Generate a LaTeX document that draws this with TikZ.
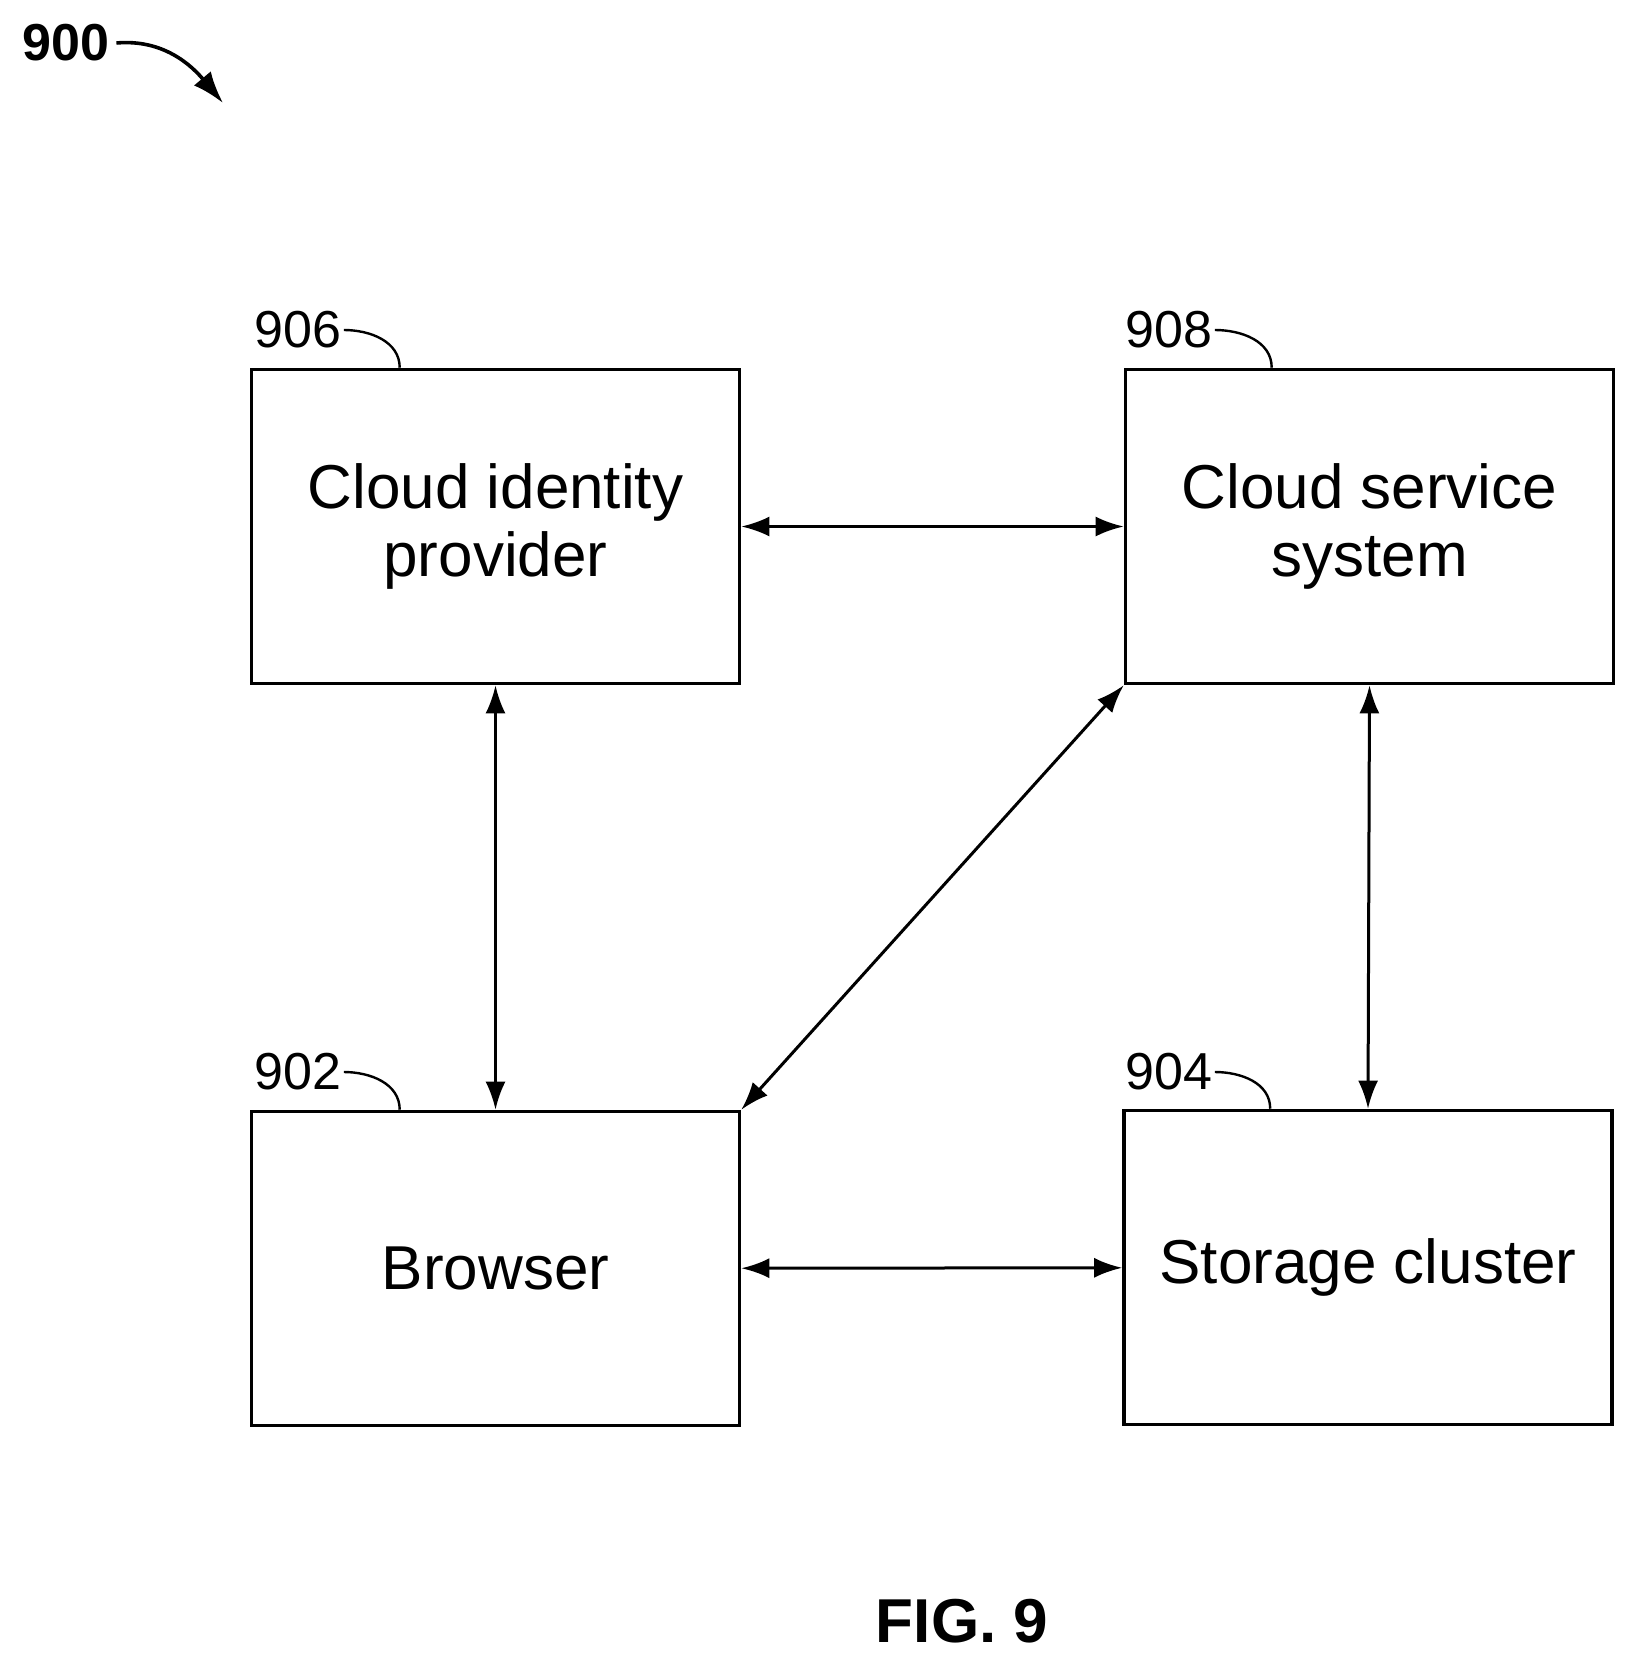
\documentclass[tikz,border=0pt]{standalone}
\usepackage{fontspec}
\setmainfont{Liberation Sans}
\usetikzlibrary{arrows.meta}
\begin{document}
\begin{tikzpicture}[x=0.5pt,y=-0.5pt,
	box/.style={draw, line width=1.8pt, minimum width=244pt, minimum height=157pt, align=center, font=\fontsize{31}{34}\selectfont, inner sep=0pt},
	num/.style={font=\fontsize{26}{28}\selectfont, inner sep=1pt},
	link/.style={line width=1.5pt, {Latex[length=14pt,width=10pt]}-{Latex[length=14pt,width=10pt]}},
	hook/.style={line width=1.2pt}]
	\useasboundingbox (0,0) rectangle (1633,1664);
	\node[box] (cip) at (495.5,526.5) {Cloud identity\\provider};
	\node[box] (css) at (1369.5,526.5) {Cloud service\\system};
	\node[box] (br) at (495.5,1268.5) {Browser};
	\node[box] (sc) at (1368,1267.5) {Storage cluster};
	% reference numerals
	\node[num] (n906) at (298,330) {906};
	\node[num] (n908) at (1169,330) {908};
	\node[num] (n902) at (298,1072) {902};
	\node[num] (n904) at (1169,1072) {904};
	\draw[hook] (n906.east) to[out=0,in=90] ([xshift=75pt]cip.north west);
	\draw[hook] (n908.east) to[out=0,in=90] ([xshift=74pt]css.north west);
	\draw[hook] (n902.east) to[out=0,in=90] ([xshift=75pt]br.north west);
	\draw[hook] (n904.east) to[out=0,in=90] ([xshift=74pt]sc.north west);
	% links
	\draw[link] (cip) -- (css);
	\draw[link] (br) -- (sc);
	\draw[link] (cip) -- (br);
	\draw[link] (css.south) -- (sc.north);
	\draw[link] (br.north east) -- (css.south west);
	% figure number
	\node[font=\bfseries\fontsize{26}{28}\selectfont] (n900) at (66,43) {900};
	\coordinate (tip900) at (223,103);
	\draw[line width=1.8pt, -{Latex[length=16pt,width=11pt]}] (n900.east) to[out=5,in=130] (tip900);
	\node[font=\bfseries\fontsize{31}{34}\selectfont] (fig) at (962,1621) {FIG. 9};
\end{tikzpicture}
\end{document}
